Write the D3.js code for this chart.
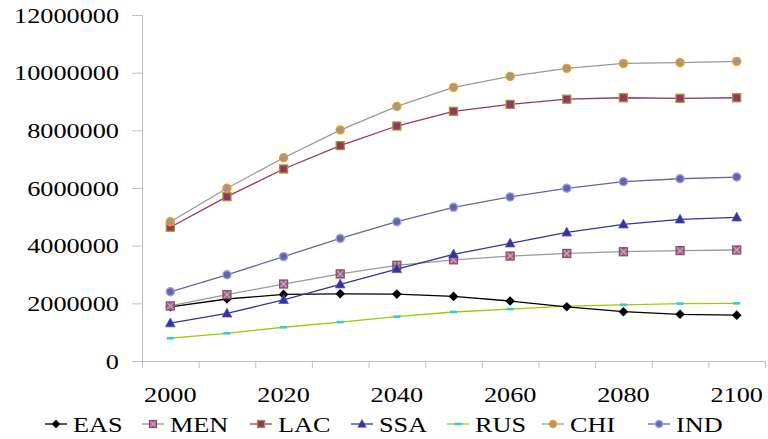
<!DOCTYPE html>
<html>
<head>
<meta charset="utf-8">
<script src="https://cdn.jsdelivr.net/npm/d3@7"></script>
<style>
  html, body { margin: 0; padding: 0; background: #fff; }
  svg { display: block; }
  text { font-family: "Liberation Serif", "Times New Roman", serif; fill: #000; }
</style>
</head>
<body>
<svg id="chart" width="768" height="439"></svg>
<script>
// Population projections by region, 2000-2100
const years = [2000, 2010, 2020, 2030, 2040, 2050, 2060, 2070, 2080, 2090, 2100];
const yTicks = [0, 2000000, 4000000, 6000000, 8000000, 10000000, 12000000];
const xLabels = [2000, 2020, 2040, 2060, 2080, 2100];

const EAS = [1880000, 2150000, 2310000, 2330000, 2320000, 2240000, 2080000, 1880000, 1710000, 1620000, 1590000];
const MEN = [1910000, 2300000, 2670000, 3020000, 3320000, 3510000, 3640000, 3730000, 3790000, 3830000, 3850000];
const LAC = [4640000, 5700000, 6660000, 7470000, 8150000, 8660000, 8900000, 9080000, 9130000, 9110000, 9130000];
const SSA = [1310000, 1650000, 2120000, 2660000, 3190000, 3700000, 4080000, 4460000, 4740000, 4910000, 4980000];
const RUS = [790000, 960000, 1170000, 1350000, 1540000, 1700000, 1800000, 1900000, 1950000, 1990000, 2000000];
const CHI = [4830000, 5990000, 7050000, 8010000, 8830000, 9490000, 9870000, 10150000, 10320000, 10350000, 10390000];
const IND = [2400000, 2990000, 3620000, 4250000, 4830000, 5330000, 5690000, 5990000, 6220000, 6320000, 6380000];

const seriesNames = ["EAS", "MEN", "LAC", "SSA", "RUS", "CHI", "IND"];
const seriesValues = [EAS, MEN, LAC, SSA, RUS, CHI, IND];

const styles = {
  EAS: { line: "#000000", marker: "diamond", fill: "#000000", stroke: "#000000" },
  MEN: { line: "#999999", marker: "xsquare", fill: "#9a6685", stroke: "#8c4f72" },
  LAC: { line: "#993366", marker: "square", fill: "#993366", stroke: "#999933" },
  SSA: { line: "#333399", marker: "triangle", fill: "#333399", stroke: "#5555bb" },
  RUS: { line: "#99cc00", marker: "dash", fill: "#33cccc", stroke: "none" },
  CHI: { line: "#999999", marker: "circle", fill: "#999999", stroke: "#ff9900" },
  IND: { line: "#666699", marker: "circle", fill: "#666699", stroke: "#9999ff" }
};

const svg = d3.select("#chart");
const plotLeft = 142, plotRight = 765, plotTop = 15, plotBottom = 361;
const stretch = 1.25;
const axisColor = "#bfbfbf";

const x = d3.scaleBand().domain(years).range([plotLeft, plotRight]).padding(0);
const xEdges = d3.scaleLinear().domain([0, years.length]).range([plotLeft, plotRight]);
const y = d3.scaleLinear().domain([0, 12000000]).range([plotBottom, plotTop]);
const cx = d => x(d) + x.bandwidth() / 2;

// Y axis
const yAxis = svg.append("g")
  .attr("transform", `translate(${plotLeft},0)`)
  .call(d3.axisLeft(y).tickValues(yTicks).tickSize(10).tickFormat(d3.format("d")));
yAxis.selectAll("path, line").attr("stroke", axisColor).attr("stroke-width", 1);
yAxis.selectAll("text").remove();
yAxis.selectAll(".tick").append("text")
  .attr("text-anchor", "end")
  .attr("font-size", 21)
  .attr("dy", "0.34em")
  .attr("transform", `translate(-23,0) scale(${stretch},1)`)
  .text(d => d3.format("d")(d));

// X axis: tick marks on category boundaries
const xAxis = svg.append("g")
  .attr("transform", `translate(0,${plotBottom})`)
  .call(d3.axisBottom(xEdges).tickValues(d3.range(years.length + 1)).tickSize(7).tickFormat(""));
xAxis.selectAll("path, line").attr("stroke", axisColor).attr("stroke-width", 1);

// X labels at every other category
svg.append("g").selectAll("text").data(xLabels).join("text")
  .attr("text-anchor", "middle")
  .attr("font-size", 21)
  .attr("transform", d => `translate(${cx(d)},${plotBottom + 41}) scale(${stretch},1)`)
  .text(d => d);

function drawMarker(g, type, st, size) {
  const s = size;
  if (type === "diamond") {
    g.append("path").attr("d", `M0,${-s * 0.6}L${s * 0.6},0L0,${s * 0.6}L${-s * 0.6},0Z`)
      .attr("fill", st.fill);
  } else if (type === "square" || type === "xsquare") {
    g.append("rect").attr("x", -s / 2).attr("y", -s / 2).attr("width", s).attr("height", s)
      .attr("fill", st.fill).attr("stroke", st.stroke).attr("stroke-width", 1.3);
    if (type === "xsquare") {
      g.append("path").attr("d", `M${-s / 2 + 1},${-s / 2 + 1}L${s / 2 - 1},${s / 2 - 1}M${s / 2 - 1},${-s / 2 + 1}L${-s / 2 + 1},${s / 2 - 1}`)
        .attr("stroke", "#c8a8bc").attr("stroke-width", 1.2);
    }
  } else if (type === "triangle") {
    g.append("path").attr("d", `M0,${-s * 0.65}L${s * 0.6},${s * 0.45}L${-s * 0.6},${s * 0.45}Z`)
      .attr("fill", st.fill).attr("stroke", st.stroke).attr("stroke-width", 0.8);
  } else if (type === "dash") {
    g.append("rect").attr("x", -3.5).attr("y", -1.3).attr("width", 7).attr("height", 2.6)
      .attr("fill", st.fill);
  } else if (type === "circle") {
    g.append("circle").attr("r", s / 2).attr("fill", st.fill)
      .attr("stroke", st.stroke).attr("stroke-width", 1.4);
  }
}

const line = d3.line().x(d => cx(d.year)).y(d => y(d.value));

// Series, drawn so the upper lines sit on top
const drawOrder = ["RUS", "EAS", "MEN", "SSA", "IND", "LAC", "CHI"];
drawOrder.forEach(name => {
  const vals = seriesValues[seriesNames.indexOf(name)];
  const pts = years.map((yr, i) => ({ year: yr, value: vals[i] }));
  const st = styles[name];
  const g = svg.append("g");
  g.append("path").datum(pts).attr("d", line)
    .attr("fill", "none").attr("stroke", st.line).attr("stroke-width", 1.3);
  g.selectAll("g.m").data(pts).join("g").attr("class", "m")
    .attr("transform", d => `translate(${cx(d.year)},${y(d.value)})`)
    .each(function () { drawMarker(d3.select(this), st.marker, st, 8); });
});

// Legend
const legendX = [56, 153, 261, 362, 458, 553, 659];
const legendY = 424;
const legend = svg.append("g");
seriesNames.forEach((name, i) => {
  const st = styles[name];
  const g = legend.append("g").attr("transform", `translate(${legendX[i]},${legendY})`);
  g.append("line").attr("x1", -11).attr("x2", 11).attr("y1", 0).attr("y2", 0)
    .attr("stroke", st.line).attr("stroke-width", 1.3);
  drawMarker(g, st.marker, st, 7);
  g.append("text").attr("font-size", 21)
    .attr("transform", `translate(17,8) scale(${stretch},1)`)
    .text(name);
});
</script>
</body>
</html>
